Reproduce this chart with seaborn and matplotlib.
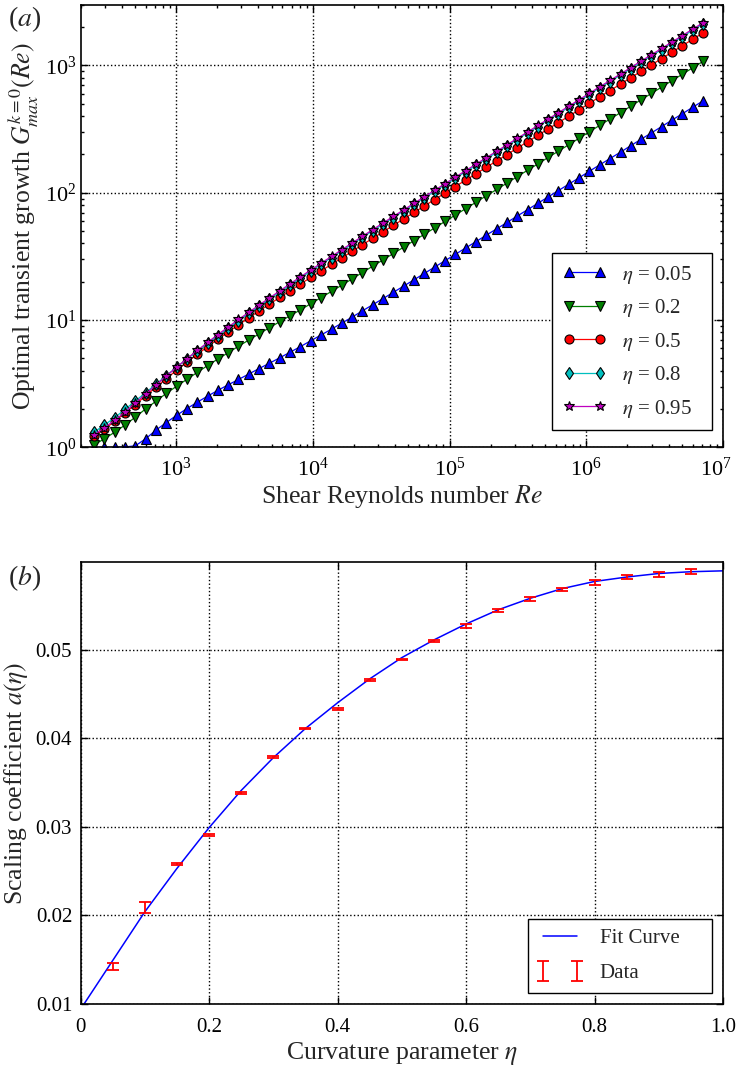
import numpy as np
import pandas as pd
import matplotlib
matplotlib.use("Agg")
import matplotlib.pyplot as plt
import matplotlib.transforms as mtransforms
import seaborn as sns
from matplotlib.ticker import LogLocator, FixedLocator, FixedFormatter, NullFormatter

# ---------------- data ----------------
re_values = [251, 299, 356, 423, 503, 599, 713, 848, 1010, 1200, 1430, 1700, 2020, 2410, 2860,
             3410, 4050, 4820, 5740, 6820, 8120, 9660, 11500, 13700, 16300, 19400, 23000, 27400,
             32600, 38800, 46200, 54900, 65400, 77800, 92500, 110000, 131000, 156000, 185000,
             221000, 263000, 312000, 372000, 442000, 526000, 626000, 745000, 886000, 1050000,
             1250000, 1490000, 1780000, 2110000, 2510000, 2990000, 3560000, 4230000, 5040000,
             5990000, 7130000]

g_eta005 = [1.00, 1.00, 1.00, 1.01, 1.03, 1.17, 1.37, 1.57, 1.79, 2.02,
            2.27, 2.53, 2.81, 3.11, 3.42, 3.78, 4.17, 4.59, 5.07, 5.60,
            6.20, 6.89, 7.65, 8.50, 9.48, 10.57, 11.81, 13.21, 14.76, 16.54,
            18.52, 20.74, 23.27, 26.10, 29.27, 32.83, 36.86, 41.34, 46.41, 52.1,
            58.5, 65.6, 73.7, 82.7, 92.8, 104.2, 117.0, 131.3, 147.4, 165.5,
            185.8, 208.6, 234.2, 263.0, 295.2, 331.5, 372.1, 417.8, 469.1, 526.7]
g_eta02 = [1.05, 1.17, 1.32, 1.50, 1.73, 2.01, 2.31, 2.66, 3.03, 3.43,
           3.89, 4.40, 4.95, 5.56, 6.24, 6.99, 7.81, 8.73, 9.74, 10.83,
           12.05, 13.46, 15.05, 16.82, 18.84, 21.10, 23.63, 26.53, 29.72, 33.37,
           37.47, 42.07, 47.23, 53.02, 59.53, 66.84, 75.04, 84.25, 94.59, 106.2,
           119.2, 133.9, 150.3, 168.7, 189.4, 212.7, 238.8, 268.1, 301.0, 337.9,
           379.4, 426.0, 478.3, 537.0, 602.9, 676.9, 759.9, 853.2, 957.9, 1075.4]
g_eta05 = [1.228, 1.395, 1.603, 1.863, 2.175, 2.545, 2.978, 3.477, 4.041, 4.674,
           5.383, 6.183, 7.070, 8.067, 9.183, 10.43, 11.82, 13.36, 15.11, 17.03,
           19.21, 21.68, 24.39, 27.44, 30.88, 34.75, 39.10, 43.91, 49.40, 55.46,
           62.41, 70.08, 78.85, 88.53, 99.40, 111.93, 125.66, 141.09, 158.40, 177.84,
           199.67, 224.17, 251.68, 282.57, 317.25, 356.19, 399.90, 448.98, 504.06, 565.92,
           635.41, 713.35, 800.93, 899.22, 1009.6, 1133.5, 1272.6, 1428.8, 1604.1, 1801.0]
g_eta08 = [1.319, 1.502, 1.718, 1.992, 2.315, 2.696, 3.141, 3.667, 4.270, 4.953,
           5.716, 6.581, 7.559, 8.667, 9.911, 11.31, 12.88, 14.65, 16.64, 18.90,
           21.42, 24.27, 27.44, 31.01, 35.06, 39.54, 44.60, 50.30, 56.74, 63.98,
           72.00, 81.04, 91.18, 102.6, 115.5, 129.9, 146.2, 164.2, 184.7, 207.4,
           233.4, 262.0, 294.2, 331.1, 371.6, 417.3, 469.6, 527.2, 591.8, 664.5,
           747.5, 839.5, 942.6, 1058.1, 1188.0, 1333.8, 1497.5, 1681.4, 1888.0, 2119.4]
g_eta095 = [1.257, 1.431, 1.636, 1.897, 2.231, 2.629, 3.090, 3.642, 4.270, 4.987,
            5.782, 6.689, 7.702, 8.848, 10.118, 11.55, 13.15, 14.96, 16.99, 19.30,
            21.87, 24.78, 28.01, 31.66, 35.79, 40.37, 45.53, 51.35, 57.93, 65.32,
            73.50, 82.73, 93.09, 104.7, 117.9, 132.6, 149.3, 167.6, 188.6, 211.7,
            238.3, 267.5, 300.3, 338.0, 379.4, 426.0, 479.4, 538.2, 604.2, 678.4,
            763.1, 857.0, 962.3, 1080.2, 1212.8, 1361.7, 1528.8, 1716.5, 1927.5, 2163.7]

series_labels = [r"$\eta$ = 0.05", r"$\eta$ = 0.2", r"$\eta$ = 0.5", r"$\eta$ = 0.8", r"$\eta$ = 0.95"]

eta_data = [0.05, 0.10, 0.15, 0.20, 0.25, 0.30, 0.35, 0.40, 0.45, 0.50,
            0.55, 0.60, 0.65, 0.70, 0.75, 0.80, 0.85, 0.90, 0.95]
a_data = [0.0142, 0.0209, 0.0258, 0.0291, 0.0338, 0.0379, 0.0411, 0.0433, 0.0466, 0.0489,
          0.0510, 0.0527, 0.0544, 0.0557, 0.0568, 0.0576, 0.0582, 0.0585, 0.0588]
a_err = [0.0004, 0.0006, 0.0001, 0.0001, 0.0001, 0.0001, 0.0001, 0.0001, 0.0001, 0.0001,
         0.0001, 0.0002, 0.0002, 0.0002, 0.0002, 0.0003, 0.0002, 0.0003, 0.0003]

eta_fit = [0.0, 0.05, 0.10, 0.15, 0.20, 0.25, 0.30, 0.35, 0.40, 0.45, 0.50,
           0.55, 0.60, 0.65, 0.70, 0.75, 0.80, 0.85, 0.90, 0.95, 1.0]
a_fit = [0.0094, 0.0149, 0.0204, 0.0253, 0.0299, 0.0341, 0.0378, 0.0411, 0.0440, 0.0467, 0.0491,
         0.0511, 0.0529, 0.0545, 0.0558, 0.0569, 0.0577, 0.0582, 0.0586, 0.0588, 0.0589]

x_tick_labels_b = ["0", "0.2", "0.4", "0.6", "0.8", "1.0"]
y_tick_labels_b = ["0.01", "0.02", "0.03", "0.04", "0.05"]

# ---------------- style ----------------
sns.set_theme(style="ticks")
plt.rcParams.update({
    "font.family": ["Liberation Serif", "DejaVu Serif"],
    "mathtext.fontset": "stix",
    "xtick.direction": "in",
    "ytick.direction": "in",
    "xtick.top": True,
    "ytick.right": True,
    "axes.linewidth": 1.2,
    "axes.edgecolor": "black",
    "xtick.color": "black",
    "ytick.color": "black",
    "xtick.major.size": 5,
    "ytick.major.size": 5,
    "xtick.minor.size": 2.5,
    "ytick.minor.size": 2.5,
    "xtick.major.width": 1.0,
    "ytick.major.width": 1.0,
    "xtick.labelsize": 14.5,
    "ytick.labelsize": 14.5,
    "xtick.major.pad": 8,
    "ytick.major.pad": 6,
})

fig = plt.figure(figsize=(7.36, 10.69), dpi=100)
ax1 = fig.add_axes([0.1094, 0.5814, 0.873, 0.4142])
ax2 = fig.add_axes([0.1094, 0.0608, 0.873, 0.4135])

# ---------------- panel (a) ----------------
ax1.set_xscale("log")
ax1.set_yscale("log")
colors = ["#0000ff", "#007f00", "#ff0000", "#00bfbf", "#bf00bf"]
markers = ["^", "v", "o", "d", "*"]
msizes = [7.0, 7.0, 6.5, 6.5, 7.0]
series = [g_eta005, g_eta02, g_eta05, g_eta08, g_eta095]
for g, c, m, ms, lab in zip(series, colors, markers, msizes, series_labels):
    df = pd.DataFrame({"Re": re_values, "G": g})
    sns.lineplot(data=df, x="Re", y="G", ax=ax1, color=c, marker=m, markersize=ms,
                 markeredgecolor="black", markeredgewidth=0.8, linewidth=0.9, label=lab)

ax1.set_xlim(200, 1e7)
ax1.set_ylim(1, 3000)
ax1.xaxis.set_major_locator(LogLocator(base=10, numticks=20))
ax1.xaxis.set_minor_locator(LogLocator(base=10, subs=np.arange(2, 10), numticks=100))
ax1.yaxis.set_major_locator(LogLocator(base=10, numticks=20))
ax1.yaxis.set_minor_locator(LogLocator(base=10, subs=np.arange(2, 10), numticks=100))
ax1.xaxis.set_minor_formatter(NullFormatter())
ax1.yaxis.set_minor_formatter(NullFormatter())
ax1.tick_params(axis="both", which="major", labelsize=16)
ax1.tick_params(axis="x", which="major", pad=7)
ax1.tick_params(axis="y", which="major", pad=3)
ax1.grid(True, which="major", color="black", linestyle=":", linewidth=1.0)
ax1.set_axisbelow(True)
ax1.set_xlabel(r"Shear Reynolds number $Re$", fontsize=18.5, labelpad=2)
ax1.set_ylabel(r"Optimal transient growth $G^{k=0}_{max}(Re)$", fontsize=18.5, labelpad=3)
ax1.legend(loc="lower left", bbox_to_anchor=(0.7339, 0.0395, 0.249, 0.4), mode="expand",
           borderaxespad=0, numpoints=2, fontsize=15, handlelength=2.1, handletextpad=0.77,
           labelspacing=0.55, borderpad=0.5, frameon=True, fancybox=False,
           edgecolor="black", framealpha=1)
ax1.get_legend().get_frame().set_linewidth(1.0)

# ---------------- panel (b) ----------------
fit_df = pd.DataFrame({"eta": eta_fit, "a": a_fit})
sns.lineplot(data=fit_df, x="eta", y="a", ax=ax2, color="#0000ff", linewidth=1.1,
             label="Fit Curve")
ax2.errorbar(eta_data, a_data, yerr=a_err, fmt="none", ecolor="#ff0000",
             elinewidth=1.3, capsize=4, capthick=1.3, label="Data")
ax2.set_xlim(0, 1.0)
ax2.set_ylim(0.01, 0.0599)
ax2.xaxis.set_major_locator(FixedLocator([0, 0.2, 0.4, 0.6, 0.8, 1.0]))
ax2.xaxis.set_major_formatter(FixedFormatter(x_tick_labels_b))
ax2.yaxis.set_major_locator(FixedLocator([0.01, 0.02, 0.03, 0.04, 0.05]))
ax2.yaxis.set_major_formatter(FixedFormatter(y_tick_labels_b))
ax2.tick_params(axis="both", which="major", labelsize=15)
ax2.tick_params(axis="x", which="major", pad=10)
ax2.grid(True, which="major", color="black", linestyle=":", linewidth=1.0)
ax2.set_axisbelow(True)
ax2.set_xlabel(r"Curvature parameter $\eta$", fontsize=18.5, labelpad=2)
ax2.set_ylabel(r"Scaling coefficient $a(\eta)$", fontsize=18.5, labelpad=4)
ax2.legend(loc="lower left", bbox_to_anchor=(0.696, 0.0256, 0.2869, 0.3), mode="expand",
           borderaxespad=0, numpoints=2, fontsize=15, handlelength=2.2, handletextpad=0.8,
           labelspacing=0.75, borderpad=0.45, frameon=True, fancybox=False,
           edgecolor="black", framealpha=1)
ax2.get_legend().get_frame().set_linewidth(1.0)

fig.text(0.011, 0.996, r"($a$)", fontsize=20, ha="left", va="top")
fig.text(0.011, 0.473, r"($b$)", fontsize=20, ha="left", va="top")

# nudge the right-most x tick label (10^7) so it stays inside the figure
fig.canvas.draw()
shift = mtransforms.ScaledTranslation(-5 / 72.0, 0, fig.dpi_scale_trans)
for tick in ax1.xaxis.get_major_ticks():
    if abs(tick.get_loc() - 1e7) / 1e7 < 1e-6:
        tick.label1.set_transform(tick.label1.get_transform() + shift)

fig.savefig("out.png", dpi=100)
